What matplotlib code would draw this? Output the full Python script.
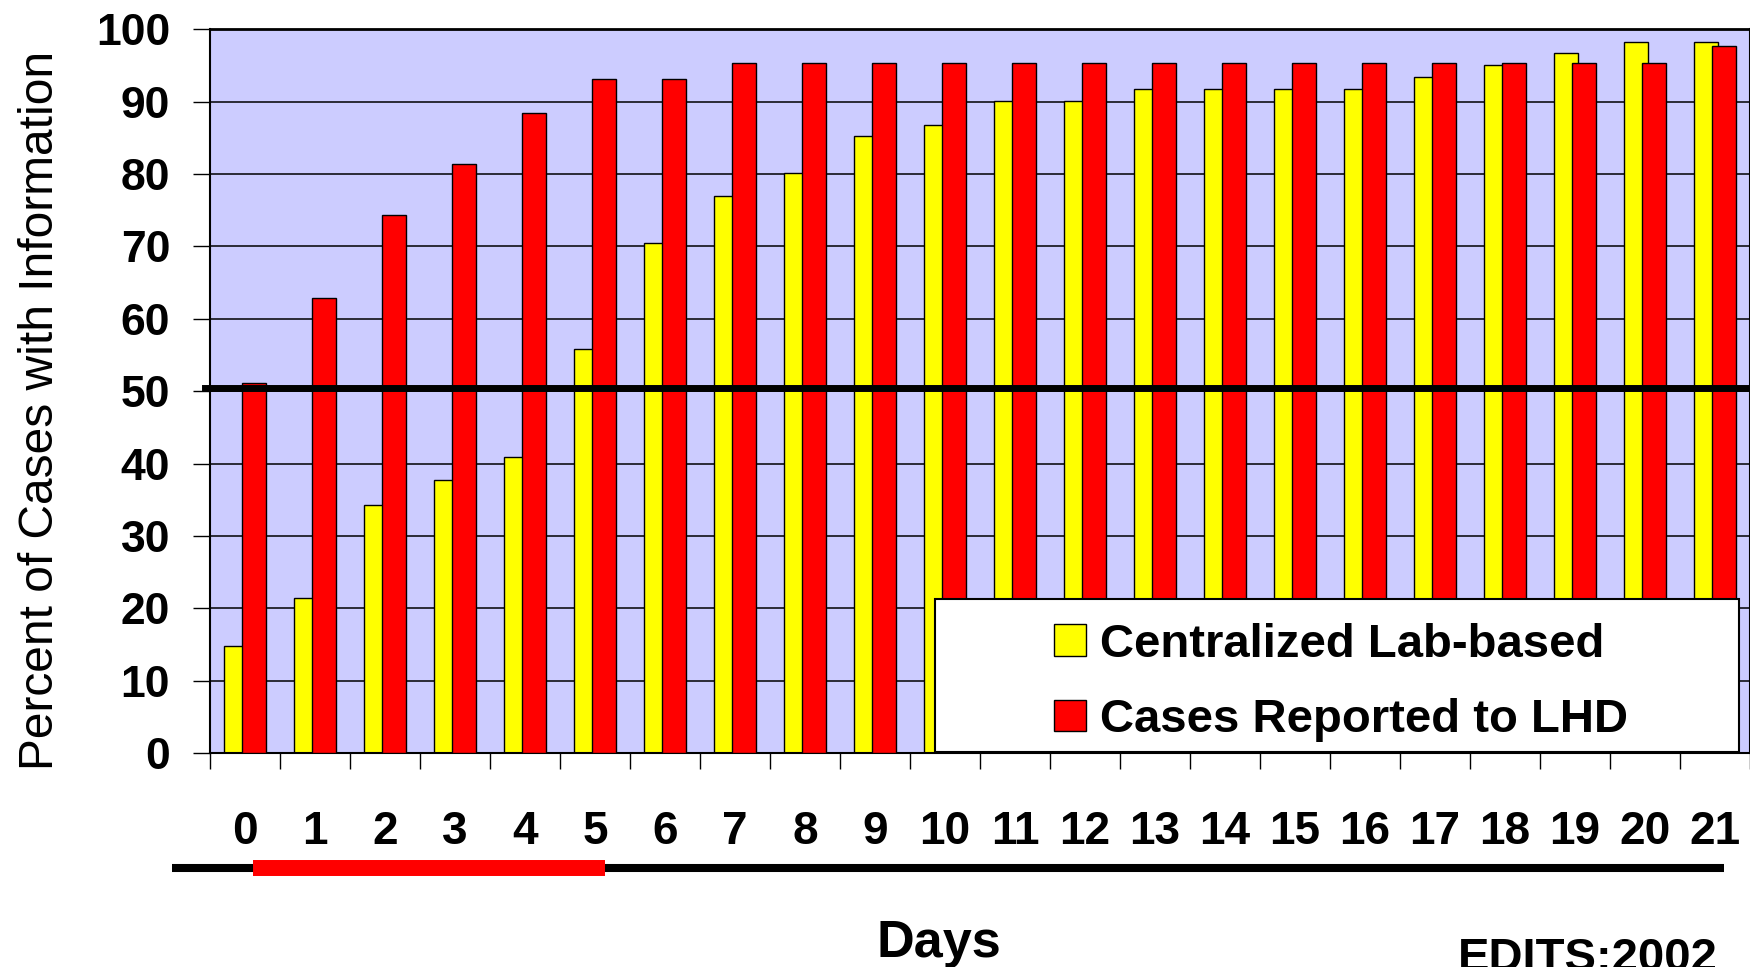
import matplotlib
matplotlib.use("Agg")
import matplotlib.pyplot as plt
import matplotlib.transforms as mtransforms
from matplotlib.patches import Rectangle
from matplotlib.lines import Line2D
import numpy as np

plt.rcParams['font.family'] = ['Liberation Sans', 'DejaVu Sans']

# ---- data -------------------------------------------------------------
days = list(range(22))
day_labels = [str(d) for d in days]

centralized_lab = [14.8, 21.4, 34.3, 37.7, 40.9, 55.8, 70.5, 76.9, 80.2, 85.2,
                   86.8, 90.1, 90.1, 91.7, 91.7, 91.7, 91.7, 93.4, 95.0, 96.7,
                   98.3, 98.3]
reported_lhd = [51.1, 62.9, 74.4, 81.4, 88.4, 93.1, 93.1, 95.4, 95.4, 95.4,
                95.4, 95.4, 95.4, 95.4, 95.4, 95.4, 95.4, 95.4, 95.4, 95.4,
                95.4, 97.7]
series_names = ["Centralized Lab-based", "Cases Reported to LHD"]
y_ticks = list(range(0, 101, 10))
reference_pct = 50.5
highlight_days = (0, 5)

# ---- figure -----------------------------------------------------------
W, H = 1750, 967
fig = plt.figure(figsize=(W / 100, H / 100), dpi=100)
ax = fig.add_axes([210 / W, (H - 753) / H, 1540 / W, 723.7 / H])
ax.set_facecolor('#CCCCFF')

x = np.arange(len(days))
bar_w = 0.345
off = 0.128
ax.bar(x - off, centralized_lab, width=bar_w, color='#FFFF00',
       edgecolor='black', linewidth=1.0, zorder=2, label=series_names[0])
ax.bar(x + off, reported_lhd, width=bar_w, color='#FF0000',
       edgecolor='black', linewidth=1.0, zorder=3, label=series_names[1])

ax.set_xlim(-0.5, len(days) - 0.5)
ax.set_ylim(0, 100)

# grid
ax.set_axisbelow(True)
ax.yaxis.grid(True, color='black', linewidth=1.1)

# y axis
ax.set_yticks(y_ticks)
ax.tick_params(axis='y', which='major', direction='out', length=12.2,
               width=1.0, pad=16.5, labelsize=32)
for t in ax.get_yticklabels():
    t.set_fontweight('bold')

# x axis: labels at centres, tick marks at category boundaries
ax.set_xticks(x)
ax.set_xticklabels(day_labels, fontsize=33, fontweight='bold')
ax.set_xticks(np.arange(-0.5, len(days), 1.0), minor=True)
ax.tick_params(axis='x', which='major', length=0, pad=41)
ax.tick_params(axis='x', which='minor', direction='out', length=11.5, width=1.0)

for s in ax.spines.values():
    s.set_color('black')
    s.set_linewidth(1.5)
ax.spines['top'].set_linewidth(2.0)

# reference line
ax.axhline(reference_pct, xmin=-0.0035, xmax=1.0, color='black',
           linewidth=5.0, zorder=5, clip_on=False)

# legend box
ax.add_patch(Rectangle((0.4708, 0.0015), 0.5221, 0.2113, transform=ax.transAxes,
                       facecolor='white', edgecolor='black', linewidth=1.5,
                       zorder=6))
leg = ax.legend(loc='center', bbox_to_anchor=(0.7345, 0.0975), frameon=False,
                prop={'size': 34, 'weight': 'bold'}, handlelength=0.66,
                handleheight=0.66, handletextpad=0.3, labelspacing=0.66,
                borderpad=0)
leg.set_zorder(7)

# axis titles
fig.text(53.5 / W, (H - 410) / H, "Percent of Cases with Information",
         rotation=90, rotation_mode='anchor', ha='center', va='baseline',
         fontsize=34.5)
fig.text(939 / W, (H - 956.7) / H, "Days", ha='center', va='baseline',
         fontsize=37.5, fontweight='bold')
fig.text(1458 / W, (H - 971) / H, "EDITS:2002", ha='left', va='baseline',
         fontsize=34, fontweight='bold')

# timeline under the day labels
fig.add_artist(Line2D([172 / W, 1724 / W], [(H - 868) / H] * 2,
                      color='black', linewidth=5.8, solid_capstyle='butt'))
blend = mtransforms.blended_transform_factory(ax.transData, fig.transFigure)
fig.add_artist(Line2D([highlight_days[0] + 0.11, highlight_days[1] + 0.14],
                      [(H - 868) / H] * 2, transform=blend,
                      color='#FF0000', linewidth=11.5, solid_capstyle='butt'))

fig.savefig('out.png', dpi=100)
